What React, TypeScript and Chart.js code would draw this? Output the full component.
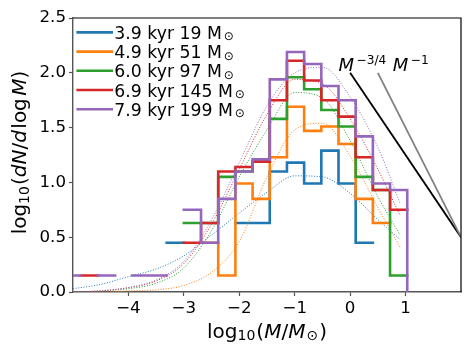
import React, { useEffect, useRef } from 'react';
import { Chart, registerables } from 'chart.js';

Chart.register(...registerables);

// ---------- data ----------
const binEdges = [-5.17, -4.86, -4.55, -4.24, -3.93, -3.62, -3.31, -3.0, -2.69, -2.38, -2.07, -1.76, -1.45, -1.14, -0.83, -0.52, -0.21, 0.1, 0.41, 0.72, 1.03, 1.34];

const seriesTimes = ['3.9', '4.9', '6.0', '6.9', '7.9'];
const seriesMasses = ['19', '51', '97', '145', '199'];
const seriesColors = ['#1f77b4', '#ff7f0e', '#2ca02c', '#d62728', '#9467bd'];

// log10(dN/dlogM) per bin (null = empty bin)
const hist39 = [null, null, null, null, null, null, 0.45, null, null, null, 0.63, 0.63, 1.1, 1.18, 0.99, 1.29, 0.99, 0.45, null, null, null];
const hist49 = [null, null, null, null, null, null, null, null, 0.45, 0.15, 0.99, 0.85, 1.23, 1.69, 1.47, 1.51, 1.35, 0.85, 0.63, null, null];
const hist60 = [null, null, null, null, null, null, null, 0.63, 0.63, 1.05, 1.1, 1.19, 1.58, 1.96, 1.85, 1.66, 1.51, 1.05, 0.93, 0.15, null];
const hist69 = [null, 0.15, null, null, null, null, null, 0.45, 0.63, 1.1, 1.14, 1.19, 1.75, 2.11, 1.93, 1.75, 1.6, 1.23, 0.93, 0.75, null];
const hist79 = [0.15, null, 0.15, null, 0.15, 0.15, null, 0.75, 0.45, 0.85, 1.1, 1.21, 1.94, 2.19, 2.08, 1.88, 1.75, 1.42, 0.99, 0.93, -0.5];

// dotted fits, read at these log10(M) positions
const fitX = [-5, -4.5, -4, -3.5, -3, -2.5, -2, -1.5, -1, -0.5, 0, 0.5, 0.9];
const fit39 = [0.03, 0.07, 0.14, 0.21, 0.33, 0.52, 0.72, 0.91, 1.06, 1.05, 0.9, 0.66, 0.48];
const fit49 = [0.0, 0.0, 0.01, 0.02, 0.06, 0.18, 0.46, 1.05, 1.48, 1.54, 1.24, 0.77, 0.41];
const fit60 = [0.0, 0.01, 0.03, 0.08, 0.22, 0.56, 1.05, 1.48, 1.82, 1.77, 1.38, 0.87, 0.52];
const fit69 = [0.0, 0.01, 0.04, 0.1, 0.26, 0.62, 1.12, 1.62, 1.94, 1.9, 1.58, 1.12, 0.7];
const fit79 = [0.0, 0.01, 0.04, 0.11, 0.28, 0.66, 1.18, 1.7, 2.0, 2.05, 1.78, 1.32, 0.81];

// power-law guide lines: [x, y] endpoints
const powerLawM34 = [[0.0, 2.0], [2.0, 0.5]];
const powerLawM1 = [[0.5, 2.0], [2.0, 0.5]];
const powerLawLabelX = [-0.21, 0.77];
const powerLawLabelY = 2.02;
const powerLawExps = ['\u22123/4', '\u22121'];

const xTicks = [-4, -3, -2, -1, 0, 1];
const yTicks = [0, 0.5, 1, 1.5, 2, 2.5];

const hists = [hist39, hist49, hist60, hist69, hist79];
const fits = [fit39, fit49, fit60, fit69, fit79];

// ---------- helpers ----------
const FONT = '"DejaVu Sans"';

function stepPoints(values: (number | null)[]) {
  const pts: { x: number; y: number | null }[] = [];
  values.forEach((v, k) => {
    if (v === null) {
      pts.push({ x: binEdges[k], y: null });
    } else {
      pts.push({ x: binEdges[k], y: v }, { x: binEdges[k + 1], y: v });
    }
  });
  return pts;
}

type Run = { t: string; size: number; italic?: boolean; dy?: number; pre?: number; post?: number };

function setFont(ctx: CanvasRenderingContext2D, r: Run) {
  ctx.font = `${r.italic ? 'italic ' : ''}${r.size}px ${FONT}`;
}

function runsWidth(ctx: CanvasRenderingContext2D, runs: Run[]) {
  let w = 0;
  for (const r of runs) {
    setFont(ctx, r);
    w += (r.pre || 0) + ctx.measureText(r.t).width + (r.post || 0);
  }
  return w;
}

function drawRuns(ctx: CanvasRenderingContext2D, runs: Run[], x: number, y: number) {
  let cx = x;
  ctx.textAlign = 'left';
  ctx.textBaseline = 'alphabetic';
  for (const r of runs) {
    setFont(ctx, r);
    cx += r.pre || 0;
    ctx.fillText(r.t, cx, y + (r.dy || 0));
    cx += ctx.measureText(r.t).width + (r.post || 0);
  }
}

const decorPlugin = {
  id: 'decor',
  afterDraw(chart: any) {
    const { ctx, chartArea: a, scales } = chart;
    const xs = scales.x;
    const ys = scales.y;
    ctx.save();
    ctx.fillStyle = '#000';

    // top and right spines
    ctx.strokeStyle = '#000';
    ctx.lineWidth = 1.2;
    ctx.beginPath();
    ctx.moveTo(a.left, a.top);
    ctx.lineTo(a.right, a.top);
    ctx.lineTo(a.right, a.bottom);
    ctx.stroke();

    // legend
    const rowH = 19.2;
    for (let i = 0; i < seriesTimes.length; i++) {
      const cy = a.top + 14.4 + i * rowH;
      ctx.strokeStyle = seriesColors[i];
      ctx.lineWidth = 2.6;
      ctx.beginPath();
      ctx.moveTo(a.left + 3.4, cy);
      ctx.lineTo(a.left + 40, cy);
      ctx.stroke();
      drawRuns(ctx, [
        { t: `${seriesTimes[i]} kyr ${seriesMasses[i]} M`, size: 17.3 },
        { t: '\u2299', size: 12, dy: 1.5, pre: 1.8 },
      ], a.left + 41.3, cy + 6.5);
    }

    // power-law labels
    for (let i = 0; i < powerLawExps.length; i++) {
      const px = xs.getPixelForValue(powerLawLabelX[i]);
      const py = ys.getPixelForValue(powerLawLabelY);
      drawRuns(ctx, [
        { t: 'M', size: 18, italic: true },
        { t: powerLawExps[i], size: 12.2, dy: -7, pre: 2.5 },
      ], px, py);
    }

    // x label
    const xRuns: Run[] = [
      { t: 'log', size: 20 },
      { t: '10', size: 14, dy: 2.5 },
      { t: '(', size: 20, pre: 1 },
      { t: 'M', size: 20, italic: true },
      { t: '/', size: 20 },
      { t: 'M', size: 20, italic: true },
      { t: '\u2299', size: 14, dy: 2.5, pre: 1 },
      { t: ')', size: 20, pre: 1 },
    ];
    const xw = runsWidth(ctx, xRuns);
    drawRuns(ctx, xRuns, (a.left + a.right) / 2 - xw / 2, a.bottom + 45.5);

    // y label (rotated)
    const yRuns: Run[] = [
      { t: 'log', size: 20 },
      { t: '10', size: 14, dy: 2.5 },
      { t: '(', size: 20, pre: 1 },
      { t: 'dN', size: 20, italic: true },
      { t: '/', size: 20 },
      { t: 'd', size: 20, italic: true },
      { t: 'log', size: 20, pre: 1.5, post: 2.5 },
      { t: 'M', size: 20, italic: true },
      { t: ')', size: 20 },
    ];
    const yw = runsWidth(ctx, yRuns);
    ctx.translate(a.left - 46.8, (a.top + a.bottom) / 2 - 2.5);
    ctx.rotate(-Math.PI / 2);
    drawRuns(ctx, yRuns, -yw / 2, 0);

    ctx.restore();
  },
};

export default function App() {
  const canvasRef = useRef<HTMLCanvasElement | null>(null);

  useEffect(() => {
    document.body.style.margin = '0';
    const canvas = canvasRef.current;
    if (!canvas) return;

    const datasets: any[] = [];
    let order = 0;
    for (let i = 0; i < hists.length; i++) {
      datasets.push({
        data: stepPoints(hists[i]),
        borderColor: seriesColors[i],
        borderWidth: 2.6,
        borderJoinStyle: 'miter',
        borderCapStyle: 'square',
        pointRadius: 0,
        spanGaps: false,
        tension: 0,
        clip: 0,
        order: order--,
      });
      datasets.push({
        data: fitX.map((x, k) => ({ x, y: fits[i][k] })),
        borderColor: seriesColors[i],
        borderWidth: 1,
        borderDash: [1, 1.65],
        pointRadius: 0,
        cubicInterpolationMode: 'monotone',
        tension: 0.4,
        clip: 0,
        order: order--,
      });
    }
    datasets.push({
      data: powerLawM34.map(([x, y]) => ({ x, y })),
      borderColor: '#000000',
      borderWidth: 1.8,
      pointRadius: 0,
      clip: 0,
      order: order--,
    });
    datasets.push({
      data: powerLawM1.map(([x, y]) => ({ x, y })),
      borderColor: '#808080',
      borderWidth: 1.8,
      pointRadius: 0,
      clip: 0,
      order: order--,
    });

    const tickFont = { family: 'DejaVu Sans', size: 16.67 };

    const chart = new Chart(canvas, {
      type: 'line',
      data: { datasets },
      options: {
        responsive: false,
        animation: false,
        devicePixelRatio: 1,
        events: [],
        layout: { padding: { left: 0, top: 18, right: 13, bottom: 0 } },
        plugins: { legend: { display: false }, tooltip: { enabled: false } },
        scales: {
          x: {
            type: 'linear',
            min: -5,
            max: 2,
            afterBuildTicks: (s: any) => {
              s.ticks = xTicks.map((v) => ({ value: v }));
            },
            afterFit: (s: any) => {
              s.height = 64;
            },
            ticks: {
              font: tickFont,
              color: '#000',
              padding: 3,
              maxRotation: 0,
              autoSkip: false,
              callback: (v: any) => String(v).replace('-', '\u2212'),
            },
            grid: { display: true, drawOnChartArea: false, drawTicks: true, tickLength: 4, tickWidth: 1.2, tickColor: '#555' },
            border: { display: true, color: '#555', width: 1.4 },
          },
          y: {
            type: 'linear',
            min: 0,
            max: 2.5,
            afterBuildTicks: (s: any) => {
              s.ticks = yTicks.map((v) => ({ value: v }));
            },
            afterFit: (s: any) => {
              s.width = 73;
            },
            ticks: {
              font: tickFont,
              color: '#000',
              padding: 3,
              autoSkip: false,
              callback: (v: any) => Number(v).toFixed(1),
            },
            grid: { display: true, drawOnChartArea: false, drawTicks: true, tickLength: 4, tickWidth: 1.2, tickColor: '#555' },
            border: { display: true, color: '#555', width: 1.4 },
          },
        },
      },
      plugins: [decorPlugin],
    } as any);

    return () => {
      chart.destroy();
    };
  }, []);

  return (
    <div style={{ width: 474, height: 356 }}>
      <canvas ref={canvasRef} width={474} height={356} style={{ width: 474, height: 356, display: 'block' }} />
    </div>
  );
}
